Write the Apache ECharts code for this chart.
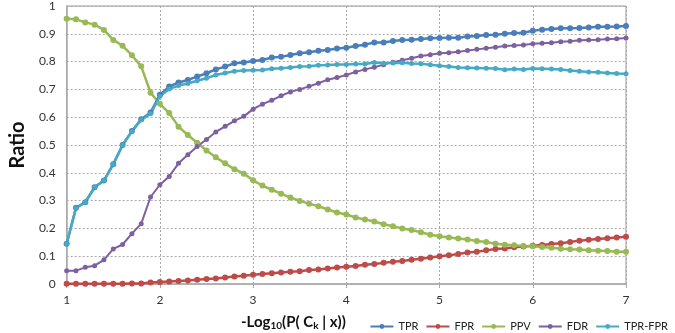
<!DOCTYPE html>
<html>
<head>
<meta charset="utf-8">
<script src="https://cdn.jsdelivr.net/npm/echarts@6/dist/echarts.min.js"></script>
<style>
  html, body { margin: 0; padding: 0; background: #fff; }
  #chart { width: 675px; height: 333px; }
</style>
</head>
<body>
<div id="chart"></div>
<script>
const xs = [1.0, 1.1, 1.2, 1.3, 1.4, 1.5, 1.6, 1.7, 1.8, 1.9,
  2.0, 2.1, 2.2, 2.3, 2.4, 2.5, 2.6, 2.7, 2.8, 2.9,
  3.0, 3.1, 3.2, 3.3, 3.4, 3.5, 3.6, 3.7, 3.8, 3.9,
  4.0, 4.1, 4.2, 4.3, 4.4, 4.5, 4.6, 4.7, 4.8, 4.9,
  5.0, 5.1, 5.2, 5.3, 5.4, 5.5, 5.6, 5.7, 5.8, 5.9,
  6.0, 6.1, 6.2, 6.3, 6.4, 6.5, 6.6, 6.7, 6.8, 6.9, 7.0];

const tpr = [0.145, 0.274, 0.294, 0.348, 0.372, 0.431, 0.500, 0.550, 0.593, 0.617,
  0.681, 0.710, 0.725, 0.734, 0.746, 0.758, 0.772, 0.782, 0.794, 0.797,
  0.802, 0.806, 0.815, 0.817, 0.824, 0.830, 0.834, 0.839, 0.842, 0.847,
  0.850, 0.856, 0.861, 0.869, 0.869, 0.874, 0.878, 0.879, 0.881, 0.884,
  0.885, 0.886, 0.886, 0.890, 0.892, 0.896, 0.897, 0.900, 0.903, 0.904,
  0.911, 0.915, 0.917, 0.920, 0.920, 0.921, 0.923, 0.925, 0.925, 0.926, 0.928];

const fpr = [0.001, 0.001, 0.001, 0.001, 0.001, 0.001, 0.001, 0.002, 0.002, 0.005,
  0.007, 0.009, 0.011, 0.013, 0.015, 0.018, 0.020, 0.023, 0.027, 0.030,
  0.033, 0.036, 0.039, 0.041, 0.044, 0.046, 0.050, 0.052, 0.056, 0.059,
  0.062, 0.065, 0.069, 0.072, 0.076, 0.080, 0.083, 0.087, 0.091, 0.095,
  0.100, 0.103, 0.108, 0.113, 0.116, 0.121, 0.126, 0.128, 0.132, 0.135,
  0.138, 0.140, 0.144, 0.147, 0.151, 0.156, 0.159, 0.162, 0.165, 0.167, 0.170];

const ppv = [0.954, 0.952, 0.941, 0.933, 0.914, 0.878, 0.857, 0.823, 0.783, 0.688,
  0.648, 0.615, 0.566, 0.536, 0.508, 0.480, 0.456, 0.434, 0.413, 0.397,
  0.373, 0.354, 0.339, 0.325, 0.311, 0.299, 0.289, 0.280, 0.268, 0.257,
  0.250, 0.239, 0.232, 0.225, 0.215, 0.208, 0.200, 0.194, 0.186, 0.177,
  0.172, 0.167, 0.164, 0.160, 0.155, 0.151, 0.145, 0.141, 0.139, 0.137,
  0.136, 0.133, 0.130, 0.127, 0.125, 0.124, 0.121, 0.120, 0.119, 0.116, 0.116];

const fdr = [0.048, 0.048, 0.060, 0.066, 0.087, 0.126, 0.142, 0.181, 0.217, 0.313,
  0.357, 0.387, 0.434, 0.465, 0.495, 0.520, 0.547, 0.567, 0.587, 0.603,
  0.629, 0.647, 0.661, 0.677, 0.691, 0.700, 0.711, 0.722, 0.735, 0.743,
  0.752, 0.763, 0.772, 0.780, 0.789, 0.798, 0.805, 0.812, 0.820, 0.825,
  0.830, 0.832, 0.835, 0.840, 0.844, 0.848, 0.852, 0.856, 0.858, 0.860,
  0.864, 0.866, 0.868, 0.871, 0.873, 0.877, 0.878, 0.879, 0.881, 0.882, 0.885];

const tprFpr = [0.145, 0.274, 0.294, 0.348, 0.372, 0.431, 0.500, 0.549, 0.591, 0.612,
  0.675, 0.701, 0.714, 0.721, 0.731, 0.740, 0.752, 0.759, 0.765, 0.768,
  0.769, 0.770, 0.774, 0.776, 0.779, 0.782, 0.783, 0.787, 0.788, 0.790,
  0.790, 0.791, 0.791, 0.797, 0.794, 0.795, 0.796, 0.793, 0.792, 0.789,
  0.785, 0.782, 0.779, 0.778, 0.777, 0.776, 0.775, 0.771, 0.773, 0.772,
  0.775, 0.774, 0.773, 0.772, 0.768, 0.765, 0.763, 0.762, 0.759, 0.757, 0.756];

const seriesNames = ['TPR', 'FPR', 'PPV', 'FDR', 'TPR-FPR'];
const seriesColors = ['#4a7ebb', '#be4b48', '#98b954', '#7d60a0', '#46aac5'];

const font = 'Lato, "Open Sans", sans-serif';

function pairs(ys) {
  return xs.map((x, i) => [x, ys[i]]);
}

function line(idx, ys, width, sym) {
  return {
    name: seriesNames[idx],
    type: 'line',
    data: pairs(ys),
    symbol: 'circle',
    symbolSize: sym,
    showSymbol: true,
    lineStyle: {width: width, color: seriesColors[idx]},
    itemStyle: {color: seriesColors[idx]},
    emphasis: {disabled: true}
  };
}

const myChart = echarts.init(document.getElementById('chart'), null, {renderer: 'canvas'});

const option = {
  backgroundColor: '#fff',
  animation: false,
  textStyle: {fontFamily: font},
  title: {
    left: 236,
    top: 309,
    text: '-Log{sub|10}(P( C{sub|k} | x))',
    textStyle: {
      fontFamily: font,
      fontSize: 15,
      fontWeight: 'bold',
      color: '#111',
      rich: {
        sub: {fontSize: 10, fontWeight: 'bold', color: '#111', fontFamily: font, verticalAlign: 'bottom', padding: [7, 0, 0, 0]}
      }
    }
  },
  legend: {
    right: 2,
    top: 316,
    itemWidth: 23,
    itemHeight: 6,
    itemGap: 7,
    textStyle: {fontSize: 11, color: '#222', fontFamily: font},
    data: seriesNames
  },
  grid: {
    left: 59,
    right: 49,
    top: 5,
    bottom: 49,
    show: true,
    borderColor: '#999',
    borderWidth: 1
  },
  xAxis: {
    type: 'value',
    min: 1,
    max: 7,
    interval: 1,
    axisLine: {show: true, onZero: false, lineStyle: {color: '#aaa', width: 1.5}},
    axisTick: {show: true, length: 4, lineStyle: {color: '#aaa'}},
    axisLabel: {fontSize: 12, color: '#333', margin: 10, fontFamily: font},
    splitLine: {show: true, lineStyle: {color: '#aaa', type: [2, 2]}}
  },
  yAxis: {
    type: 'value',
    min: 0,
    max: 1,
    interval: 0.1,
    name: 'Ratio',
    nameLocation: 'middle',
    nameGap: 38,
    nameRotate: 90,
    nameTextStyle: {fontSize: 20, fontWeight: 'bold', color: '#111', fontFamily: font},
    axisLine: {show: true, lineStyle: {color: '#aaa', width: 1.5}},
    axisTick: {show: false},
    axisLabel: {
      fontSize: 12,
      color: '#333',
      margin: 11,
      fontFamily: font,
      formatter: v => String(Math.round(v * 10) / 10)
    },
    splitLine: {show: true, lineStyle: {color: '#aaa', type: [2, 2]}}
  },
  series: [
    line(1, fpr, 2.5, 6),
    line(2, ppv, 2.5, 6),
    line(3, fdr, 2, 5),
    line(0, tpr, 2.5, 6),
    line(4, tprFpr, 2.5, 5)
  ]
};

myChart.setOption(option);
</script>
</body>
</html>
